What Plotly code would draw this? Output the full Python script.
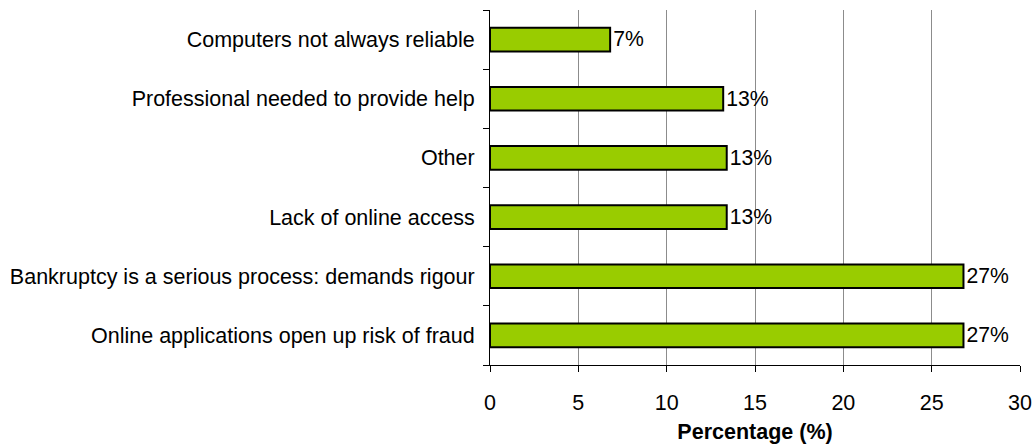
import plotly.graph_objects as go

# Survey responses: reasons given, in display order (top to bottom)
reasons = [
    "Computers not always reliable",
    "Professional needed to provide help",
    "Other",
    "Lack of online access",
    "Bankruptcy is a serious process: demands rigour",
    "Online applications open up risk of fraud",
]
percentages = [6.8, 13.2, 13.4, 13.4, 26.8, 26.8]
x_ticks = [0, 5, 10, 15, 20, 25, 30]

labels = [f"{round(v)}%" for v in percentages]

FONT = "Liberation Sans, Arial"
SIZE = 21.5

fig = go.Figure(
    go.Bar(
        x=percentages,
        y=reasons,
        orientation="h",
        marker=dict(color="#99CC00", line=dict(color="black", width=2)),
        text=labels,
        textposition="outside",
        textfont=dict(family=FONT, size=SIZE, color="black"),
        cliponaxis=False,
        width=0.4,
    )
)

fig.update_layout(
    width=1032,
    height=447,
    margin=dict(l=490, r=12, t=10, b=82),
    plot_bgcolor="white",
    paper_bgcolor="white",
    font=dict(family=FONT, size=SIZE, color="black"),
    showlegend=False,
)

fig.update_xaxes(
    range=[0, 30],
    tickvals=x_ticks,
    automargin=False,
    showgrid=True,
    gridcolor="#8c8c8c",
    gridwidth=1,
    showline=True,
    linecolor="black",
    linewidth=1,
    ticks="outside",
    ticklen=6,
    tickcolor="black",
    zeroline=False,
    tickfont=dict(size=SIZE),
    ticklabelstandoff=12,
    title=dict(
        text="<b>Percentage (%)</b>",
        font=dict(family=FONT, size=SIZE, color="black"),
        standoff=10,
    ),
)

fig.update_yaxes(
    categoryorder="array",
    categoryarray=list(reversed(reasons)),
    automargin=False,
    showgrid=False,
    showline=True,
    linecolor="black",
    linewidth=1,
    ticks="outside",
    tickson="boundaries",
    ticklen=6,
    tickcolor="black",
    ticklabelstandoff=10,
    tickfont=dict(size=SIZE),
)

fig.write_html("out.html")
